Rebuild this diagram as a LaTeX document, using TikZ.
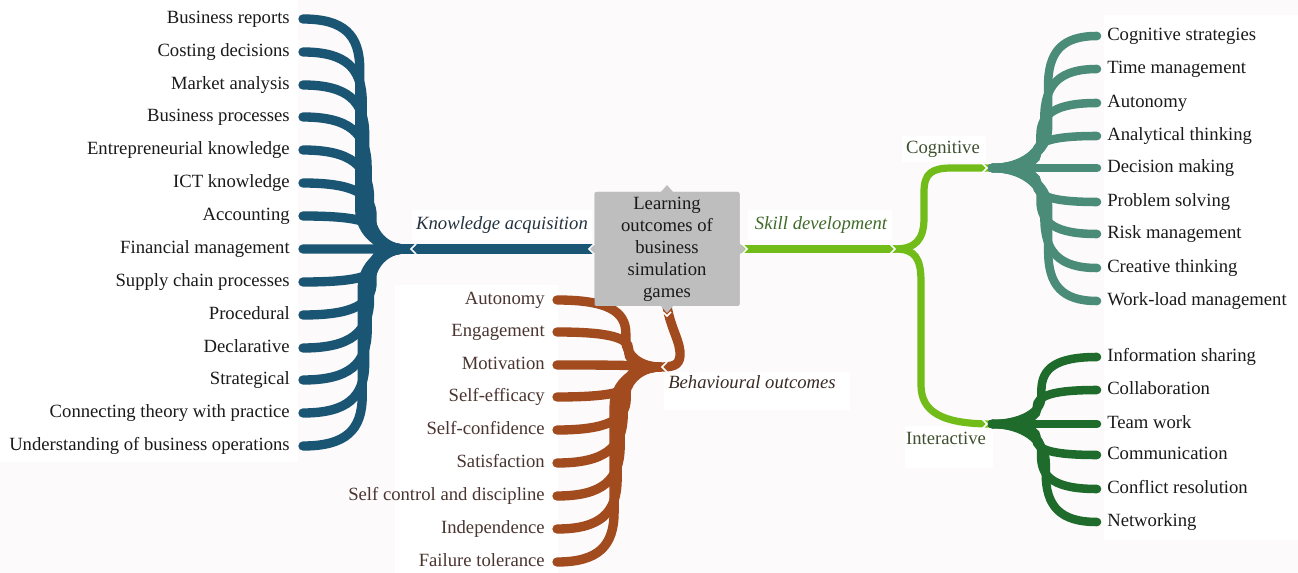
\documentclass[tikz,border=0pt]{standalone}
\usepackage{fontspec}
\setmainfont{Liberation Serif}
\definecolor{bgc}{HTML}{FCFAFB}
\definecolor{kblue}{HTML}{1A5573}
\definecolor{teal}{HTML}{4A8C78}
\definecolor{dgreen}{HTML}{1F6B2B}
\definecolor{lgreen}{HTML}{72BC1A}
\definecolor{brn}{HTML}{A24B1E}
\definecolor{boxg}{HTML}{BEBEBE}
\definecolor{labc}{HTML}{1A1A1A}
\definecolor{blabc}{HTML}{4A3530}
\definecolor{glabc}{HTML}{3F5030}
\definecolor{sklabc}{HTML}{3F6A2A}
\definecolor{kalabc}{HTML}{24323F}
\definecolor{bolabc}{HTML}{3A2A24}
\newcommand\fanbranch[7]{% #1 style, #2 start node anchor, #3 end x, #4 y, #5 trunk x, #6 hub y, #7 hub name
  \pgfmathsetmacro\d{#6-#4}
  \pgfmathsetmacro\s{sign(\d)}
  \pgfmathsetmacro\a{abs(\d)}
  \pgfmathsetmacro\cx{#3+0.72*(#5-#3)}
  \pgfmathsetmacro\yc{#4+\s*min(16,\a*0.16)}
  \pgfmathsetmacro\ya{#4+\s*min(50,\a*0.5)}
  \pgfmathsetmacro\yb{#6-\s*min(40,\a*0.4)}
  \pgfmathsetmacro\yd{#6-\s*min(16,\a*0.16)}
  \draw[#1] (#2) .. controls (\cx,#4) and (#5,\yc) .. (#5,\ya) -- (#5,\yb) .. controls (#5,\yd) and ($(#5,#6)!0.45!(#7)$) .. (#7);
}
\usetikzlibrary{calc}
\begin{document}
\begin{tikzpicture}[x=0.75pt,y=-0.75pt,
  lab/.style={font=\fontsize{14}{16}\selectfont, text=labc, text height=10pt, text depth=3pt, inner ysep=0pt},
  llab/.style={lab, anchor=east, inner xsep=9.75pt},
  rlab/.style={lab, anchor=west, inner xsep=7.5pt},
  blab/.style={lab, anchor=east, inner xsep=9pt, text=blabc},
  head/.style={font=\fontsize{14}{16}\selectfont\itshape, inner sep=0pt},
  sub/.style={font=\fontsize{14}{16}\selectfont, text=glabc, inner sep=0pt},
  kbr/.style={draw=kblue, line width=7pt, line cap=round},
  cbr/.style={draw=teal, line width=6.4pt, line cap=round},
  ibr/.style={draw=dgreen, line width=6.4pt, line cap=round},
  bbr/.style={draw=brn, line width=7pt, line cap=round},
  skl/.style={draw=lgreen, line width=6pt},
  skl2/.style={draw=lgreen, line width=5.4pt},
  chev/.style={draw=white, line width=1.1pt},
  wbox/.style={fill=white, draw=none},
  box/.style={fill=boxg, rounded corners=1.5pt, minimum width=108.75pt, minimum height=85.5pt, inner sep=0pt, align=center, font=\fontsize{14}{16.5}\selectfont, text=labc}
]
\useasboundingbox (0,0) rectangle (1298,573);
\fill[bgc] (0,0) rectangle (1298,573);
% white label panels
\fill[wbox] (0,0) rectangle (298,462);
\fill[wbox] (1104,15) rectangle (1298,540);
\fill[wbox] (395,285) rectangle (558,573);
\fill[wbox] (664,372) rectangle (850,410);
\fill[wbox] (412,210) rectangle (592,240);
\fill[wbox] (748,210) rectangle (892,240);
\fill[wbox] (902,136) rectangle (986,162);
\fill[wbox] (905,426) rectangle (993,468);

% hubs
\coordinate (khub) at (405,249);
\coordinate (sfork) at (895,249);
\coordinate (chub) at (992,168);
\coordinate (ihub) at (992,424);
\coordinate (bhub) at (660,367);

% central box (placed first so connectors can refer to it; drawn over later)
\node[box] (box) at (667,249) {};

% knowledge line
\draw[kbr, line cap=butt] (box.west) -- (khub);
% skill line and forks
\draw[skl] (box.east) -- (sfork);
\draw[skl2] (sfork) .. controls (915,249) and (924,240) .. (924,218) -- (924,192) .. controls (924,173) and (932,168) .. (952,168) -- (chub);
\draw[skl2] (sfork) .. controls (915,249) and (921,258) .. (921,282) -- (921,385) .. controls (921,412) and (942,424) .. (ihub);
% behavioural line
\draw[bbr, line cap=butt] (box.south) .. controls (671,330) and (681,342) .. (680,356) .. controls (679,366) and (672,367) .. (bhub);

% left fan: knowledge acquisition
\foreach \t/\y [count=\i] in {Business reports/19, Costing decisions/52, Market analysis/85, Business processes/117, Entrepreneurial knowledge/150, ICT knowledge/183, Accounting/216, Financial management/249, Supply chain processes/282, Procedural/315, Declarative/348, Strategical/380, Connecting theory with practice/413, Understanding of business operations/446}{
  \node[llab] (k\i) at (303,\y) {\t};
  \pgfmathsetmacro\T{359+18*(1-abs(249-\y)/240)}
  \fanbranch{kbr}{k\i.east}{303}{\y}{\T}{249}{khub}
}

% cognitive fan
\foreach \t/\y [count=\i] in {Cognitive strategies/36, Time management/69, Autonomy/103, Analytical thinking/136, Decision making/168, Problem solving/202, Risk management/234, Creative thinking/268, Work-load management/301}{
  \node[rlab] (c\i) at (1097,\y) {\t};
  \pgfmathsetmacro\T{1049-16*(1-abs(168-\y)/140)}
  \fanbranch{cbr}{c\i.west}{1097}{\y}{\T}{168}{chub}
}

% interactive fan
\foreach \t/\y [count=\i] in {Information sharing/357, Collaboration/390, Team work/424, Communication/455, Conflict resolution/489, Networking/522}{
  \node[rlab] (n\i) at (1097,\y) {\t};
  \pgfmathsetmacro\T{1046-14*(1-abs(424-\y)/100)}
  \fanbranch{ibr}{n\i.west}{1097}{\y}{\T}{424}{ihub}
}

% behavioural fan
\foreach \t/\y [count=\i] in {Autonomy/300, Engagement/332, Motivation/365, Self-efficacy/397, Self-confidence/430, Satisfaction/463, Self control and discipline/496, Independence/529, Failure tolerance/562}{
  \node[blab] (b\i) at (557,\y) {\t};
  \pgfmathsetmacro\T{614+18*(1-abs(367-\y)/196)}
  \fanbranch{bbr}{b\i.east}{557}{\y}{\T}{367}{bhub}
}

% central box drawn on top
\fill[boxg] (660,193) -- (667,185) -- (674,193) -- cycle;
\fill[boxg] (660,305) -- (667,313) -- (674,305) -- cycle;
\fill[boxg] (596,243) -- (590,249) -- (596,255) -- cycle;
\fill[boxg] (739,243) -- (745,249) -- (739,255) -- cycle;
\node[box] at (box) {Learning\\outcomes of\\business\\simulation\\games};

% chevron notches
\draw[chev] (416,244) -- (411,249) -- (416,254);
\draw[chev] (594,244) -- (589,249) -- (594,254);
\draw[chev] (742,244) -- (747,249) -- (742,254);
\draw[chev] (890,244) -- (895,249) -- (890,254);
\draw[chev] (982,163) -- (987,168) -- (982,173);
\draw[chev] (982,419) -- (987,424) -- (982,429);
\draw[chev] (667,362) -- (662,367) -- (667,372);
\draw[chev] (663,312) -- (667,316) -- (671,312);

% branch headings
\node[head, text=kalabc] (ka) at (502,225) {Knowledge acquisition};
\node[head, text=sklabc] (sd) at (821,225) {Skill development};
\node[head, text=bolabc] (bo) at (752,382) {Behavioural outcomes};
\node[sub] (cg) at (943,149) {Cognitive};
\node[sub] (ia) at (946,438) {Interactive};
\end{tikzpicture}
\end{document}
